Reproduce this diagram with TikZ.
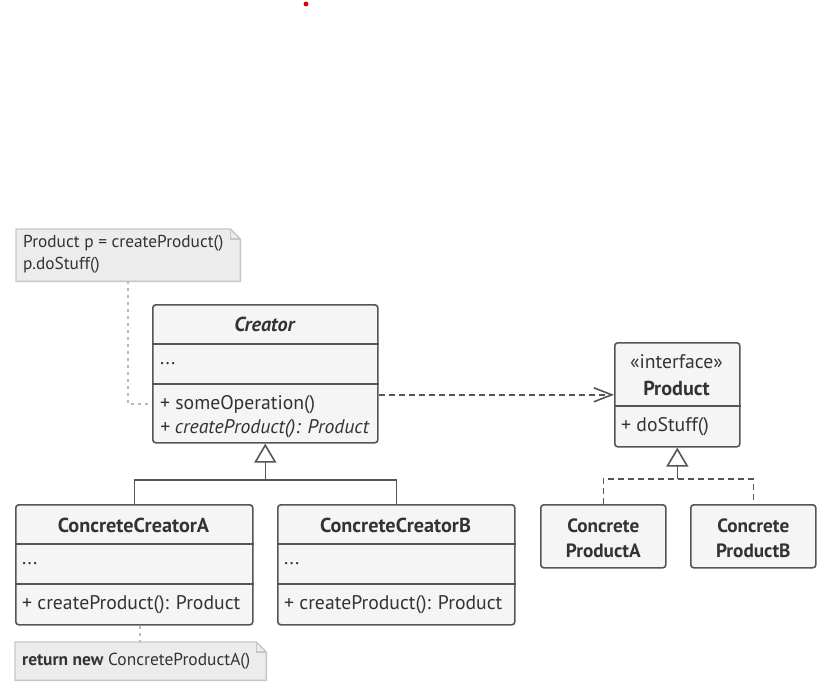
\documentclass[tikz,border=0pt]{standalone}
\usepackage{fontspec}
\setmainfont{PT Sans}
\usetikzlibrary{arrows.meta}
\definecolor{linec}{HTML}{555555}
\definecolor{boxfill}{HTML}{F5F5F5}
\definecolor{txtc}{HTML}{333333}
\definecolor{notefill}{HTML}{ECECEC}
\definecolor{noteline}{HTML}{C6C6C6}
\definecolor{notedash}{HTML}{BBBBBB}
\tikzset{
  cls/.style={draw=linec, line width=1.6pt, fill=boxfill, rounded corners=3pt, anchor=north west, inner sep=0pt},
  divider/.style={draw=linec, line width=1.6pt},
  txt/.style={text=txtc, font=\fontsize{19.7}{24}\selectfont, inner sep=0pt},
  lbl/.style={txt, anchor=west},
  ttl/.style={txt, font=\fontsize{20.2}{25}\selectfont\bfseries},
  ptl/.style={txt, align=center, font=\fontsize{19.2}{25}\selectfont\bfseries},
  notetxt/.style={lbl, font=\fontsize{17.3}{20}\selectfont},
  notebox/.style={draw=none, anchor=north west, inner sep=0pt},
  noteshape/.style={draw=noteline, line width=1.4pt, fill=notefill},
  notelink/.style={draw=notedash, line width=1.3pt, dash pattern=on 3pt off 4pt},
  dep/.style={draw=linec, line width=1.6pt, dash pattern=on 6pt off 4pt},
  gen/.style={draw=linec, line width=1.6pt},
  tri/.style={-{Triangle[open, length=19pt, width=22pt, line width=1.6pt, fill=white]}},
  barb/.style={-{Straight Barb[length=18pt, width=14pt, line width=1.6pt]}}
}
\begin{document}
\begin{tikzpicture}[x=1pt,y=-1pt]
\useasboundingbox (0,0) rectangle (832,694);
% red dot
\fill[red!85!black] (306,4) circle (2.4pt);

% ---- Note 1
\node[notebox, minimum width=224pt, minimum height=52pt] (note1) at (16,229) {};
\path[noteshape] (note1.south west) -- (note1.north west) -- ([xshift=-10pt]note1.north east) -- ([yshift=-10pt]note1.north east) -- (note1.south east) -- cycle;
\draw[draw=noteline, line width=1.2pt] ([xshift=-10pt]note1.north east) -- ([xshift=-10pt,yshift=-10pt]note1.north east) -- ([yshift=-10pt]note1.north east);
\node[notetxt] (n1a) at (23,243) {Product p = createProduct()};
\node[notetxt] (n1b) at (23,265) {p.doStuff()};

% ---- Creator
\node[cls, minimum width=225pt, minimum height=138pt] (creator) at (152,304) {};
\draw[divider] (creator.west |- 0,344) -- (creator.east |- 0,344);
\draw[divider] (creator.west |- 0,384) -- (creator.east |- 0,384);
\node[ttl, font=\fontsize{20.2}{25}\selectfont\bfseries\itshape] (creatorT) at (264.5,324) {Creator};
\node[lbl] (creatorF) at (160,364) {...};
\node[lbl] (creatorM1) at (160,405) {+ someOperation()};
\node[lbl] (creatorM2) at (160,429) {\itshape + createProduct(): Product};

% ---- Product
\node[cls, minimum width=125pt, minimum height=104pt] (product) at (614,342) {};
\draw[divider] (product.west |- 0,406) -- (product.east |- 0,406);
\node[txt] (productS) at (676.5,362) {«interface»};
\node[ttl] (productT) at (676.5,388) {Product};
\node[lbl] (productM) at (621,427) {+ doStuff()};

% ---- Concrete products
\node[cls, minimum width=125pt, minimum height=63pt] (cpa) at (540,504) {};
\node[ptl, yshift=-2pt] (cpaT) at (cpa.center) {Concrete\\ProductA};
\node[cls, minimum width=125pt, minimum height=63pt] (cpb) at (690,504) {};
\node[ptl, yshift=-2pt] (cpbT) at (cpb.center) {Concrete\\ProductB};

% ---- Concrete creators
\node[cls, minimum width=237pt, minimum height=120pt] (cca) at (15,504) {};
\draw[divider] (cca.west |- 0,544) -- (cca.east |- 0,544);
\draw[divider] (cca.west |- 0,584) -- (cca.east |- 0,584);
\node[ttl] (ccaT) at (133.5,525) {ConcreteCreatorA};
\node[lbl] (ccaF) at (22,564) {...};
\node[lbl] (ccaM) at (22,605) {+ createProduct(): Product};

\node[cls, minimum width=237pt, minimum height=120pt] (ccb) at (277,504) {};
\draw[divider] (ccb.west |- 0,544) -- (ccb.east |- 0,544);
\draw[divider] (ccb.west |- 0,584) -- (ccb.east |- 0,584);
\node[ttl] (ccbT) at (395.5,525) {ConcreteCreatorB};
\node[lbl] (ccbF) at (284,564) {...};
\node[lbl] (ccbM) at (284,605) {+ createProduct(): Product};

% ---- Note 2
\node[notebox, minimum width=251pt, minimum height=38pt] (note2) at (15,642) {};
\path[noteshape] (note2.south west) -- (note2.north west) -- ([xshift=-10pt]note2.north east) -- ([yshift=-10pt]note2.north east) -- (note2.south east) -- cycle;
\draw[draw=noteline, line width=1.2pt] ([xshift=-10pt]note2.north east) -- ([xshift=-10pt,yshift=-10pt]note2.north east) -- ([yshift=-10pt]note2.north east);
\node[lbl, font=\fontsize{17.4}{20}\selectfont] (n2a) at (22,661) {\textbf{return new} ConcreteProductA()};

% ---- connectors
\draw[notelink] (note1.south -| 128,0) |- (creator.west |- 0,404);
\draw[notelink] (cca.south -| 140,0) -- (note2.north -| 140,0);
\draw[dep, barb] (creator.east |- product.west) -- (product.west);

\coordinate (j1) at (creator.south |- 0,480);
\draw[gen] (cca.north) |- (j1) -| (ccb.north);
\draw[gen, tri] (j1) -- (creator.south);

\coordinate (j2) at (product.south |- 0,479);
\draw[dep] (cpa.north) |- (j2) -| (cpb.north);
\draw[gen] (j2) -- (product.south |- 0,466);
\draw[gen, tri] (product.south |- 0,467) -- (product.south);
\end{tikzpicture}
\end{document}
